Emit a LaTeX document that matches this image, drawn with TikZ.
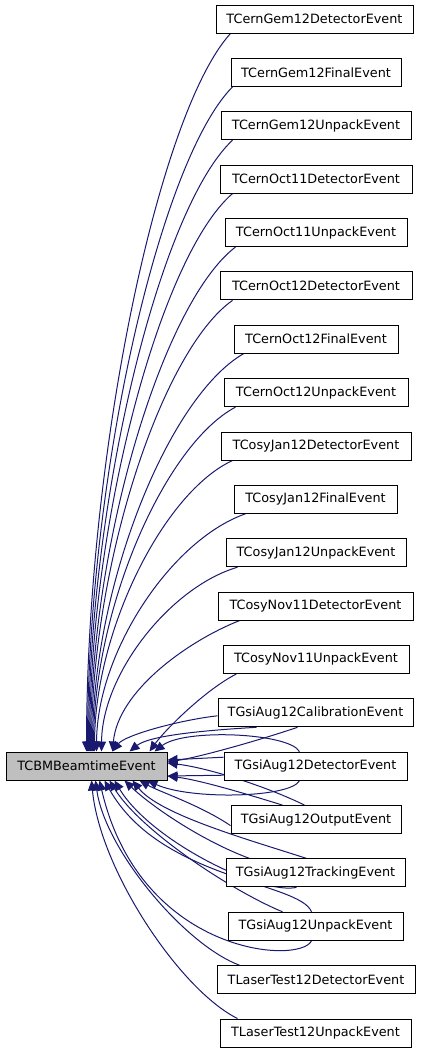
\documentclass[tikz,border=0pt]{standalone}
\usepackage{fontspec}
\setmainfont{DejaVu Sans}
\usetikzlibrary{arrows.meta,backgrounds}
\definecolor{edgeblue}{HTML}{191970}
\definecolor{basegray}{HTML}{BFBFBF}
\begin{document}
\begin{tikzpicture}[x=1pt,y=-1pt,
  cls/.style={draw=black,fill=white,line width=1pt,minimum height=28pt,inner sep=0pt,
    font=\fontsize{12.8}{15}\selectfont},
  basecls/.style={cls,fill=basegray},
  edge/.style={draw=edgeblue,line width=1pt,-{Triangle[length=10pt,width=9pt]}}]
\useasboundingbox (0,0) rectangle (421,1053);
\node[basecls,minimum width=161pt] (P) at (86.5,766) {TCBMBeamtimeEvent};
\node[cls,minimum width=197pt] (b1)  at (314.5,19.0)  {TCernGem12DetectorEvent};
\node[cls,minimum width=170pt] (b2)  at (316,72.4)    {TCernGem12FinalEvent};
\node[cls,minimum width=190pt] (b3)  at (316,125.7)   {TCernGem12UnpackEvent};
\node[cls,minimum width=192pt] (b4)  at (316,179.1)   {TCernOct11DetectorEvent};
\node[cls,minimum width=182pt] (b5)  at (316,232.5)   {TCernOct11UnpackEvent};
\node[cls,minimum width=192pt] (b6)  at (316,285.9)   {TCernOct12DetectorEvent};
\node[cls,minimum width=164pt] (b7)  at (316,339.2)   {TCernOct12FinalEvent};
\node[cls,minimum width=184pt] (b8)  at (316,392.6)   {TCernOct12UnpackEvent};
\node[cls,minimum width=190pt] (b9)  at (316,446.0)   {TCosyJan12DetectorEvent};
\node[cls,minimum width=163pt] (b10) at (315.5,499.3) {TCosyJan12FinalEvent};
\node[cls,minimum width=180pt] (b11) at (316,552.7)   {TCosyJan12UnpackEvent};
\node[cls,minimum width=195pt] (b12) at (315.5,606.1) {TCosyNov11DetectorEvent};
\node[cls,minimum width=186pt] (b13) at (316,659.4)   {TCosyNov11UnpackEvent};
\node[cls,minimum width=195pt] (b14) at (315.5,712.8) {TGsiAug12CalibrationEvent};
\node[cls,minimum width=183pt] (b15) at (315.5,766.2) {TGsiAug12DetectorEvent};
\node[cls,minimum width=170pt] (b16) at (316,819.6)   {TGsiAug12OutputEvent};
\node[cls,minimum width=179pt] (b17) at (315.5,872.9) {TGsiAug12TrackingEvent};
\node[cls,minimum width=175pt] (b18) at (315.5,926.3) {TGsiAug12UnpackEvent};
\node[cls,minimum width=198pt] (b19) at (316,979.7)   {TLaserTest12DetectorEvent};
\node[cls,minimum width=191pt] (b20) at (315.5,1033)  {TLaserTest12UnpackEvent};
\begin{scope}[on background layer]
\draw[edge] ([xshift=15pt]b1.south west)  .. controls (159,112)   and (87,450)   .. ([xshift=81pt]P.north west);
\draw[edge] ([xshift=2pt]b2.south west)   .. controls (160.5,159.6) and (88,472.5) .. ([xshift=82pt]P.north west);
\draw[edge] ([xshift=12pt]b3.south west)  .. controls (161,207.1) and (89,494.8) .. ([xshift=83pt]P.north west);
\draw[edge] ([xshift=13pt]b4.south west)  .. controls (161.5,254.6) and (90,517.3) .. ([xshift=84pt]P.north west);
\draw[edge] ([xshift=11pt]b5.south west)  .. controls (163.5,302.1) and (91,539.7) .. ([xshift=85pt]P.north west);
\draw[edge] ([xshift=13pt]b6.south west)  .. controls (162.5,349.6) and (92,562.1) .. ([xshift=86pt]P.north west);
\draw[edge] ([xshift=10pt]b7.south west)  .. controls (168.5,397.1) and (93,584.5) .. ([xshift=87pt]P.north west);
\draw[edge] ([xshift=12pt]b8.south west)  .. controls (165,444.6)   and (94,606.9) .. ([xshift=88pt]P.north west);
\draw[edge] ([xshift=12pt]b9.south west)  .. controls (164,492.1)   and (95,629.4) .. ([xshift=89pt]P.north west);
\draw[edge] ([xshift=12pt]b10.south west) .. controls (171.5,539.6) and (97,651.7) .. ([xshift=91pt]P.north west);
\draw[edge] ([xshift=12pt]b11.south west) .. controls (170,587.1)   and (102,674.2) .. ([xshift=96pt]P.north west);
\draw[edge] ([xshift=22pt]b12.south west) .. controls (190,640) and (118,690) .. ([xshift=107pt]P.north west);
\draw[edge] ([xshift=14pt]b13.south west) .. controls (205,690) and (165,730) .. ([xshift=144pt]P.north west);
% TGsiAug12CalibrationEvent
\draw[edge] ([yshift=-3pt]b14.west) .. controls (180,720) and (125,735) .. ([xshift=107pt]P.north west);
\draw[edge] ([xshift=39pt]b14.south west) .. controls (210,730) and (150,735) .. ([xshift=124pt]P.north west);
\draw[edge] ([xshift=80pt]b14.south west) .. controls (260,740) and (200,757) .. ([yshift=4pt]P.east);
% TGsiAug12DetectorEvent
\draw[edge] ([xshift=76pt]b15.north west) .. controls (290,733) and (185,728) .. ([xshift=149pt]P.north west);
\draw[edge] ([yshift=9pt]b15.west) -- ([yshift=6pt]P.east);
\draw[edge] ([yshift=-9pt]b15.west) -- ([yshift=-10pt]P.east);
\draw[edge] ([xshift=76pt]b15.south west) .. controls (290,798) and (190,800) .. ([xshift=142pt]P.south west);
% TGsiAug12OutputEvent
\draw[edge] ([xshift=52pt]b16.north west) .. controls (250,795) and (200,780) .. ([yshift=-10pt]P.east);
\draw[edge] ([xshift=74pt]b16.north west) .. controls (270,788) and (210,768) .. ([yshift=3pt]P.east);
\draw[edge] ([yshift=-6pt]b16.west) .. controls (200,805) and (160,792) .. ([xshift=134pt]P.south west);
% TGsiAug12TrackingEvent
\draw[edge] ([xshift=24pt]b17.north west) .. controls (200,840) and (150,805) .. ([xshift=119pt]P.south west);
\draw[edge] ([xshift=81pt]b17.north west) .. controls (250,840) and (160,815) .. ([xshift=127pt]P.south west);
\draw[edge] ([xshift=71pt]b17.south west) .. controls (260,895) and (150,840) .. ([xshift=109pt]P.south west);
% TGsiAug12UnpackEvent
\draw[edge] ([xshift=55pt]b18.north west) .. controls (230,890) and (140,830) .. ([xshift=104pt]P.south west);
\draw[edge] ([xshift=84pt]b18.north west) .. controls (300,882) and (160,880) .. ([xshift=99pt]P.south west);
\draw[edge] ([xshift=84pt]b18.south west) .. controls (300,965) and (140,955) .. ([xshift=94pt]P.south west);
% TLaserTest12
\draw[edge] ([xshift=23pt]b19.north west) .. controls (185,945) and (105,850) .. ([xshift=90pt]P.south west);
\draw[edge] ([xshift=18pt]b20.north west) .. controls (180,990) and (100,870) .. ([xshift=86pt]P.south west);
\end{scope}
\end{tikzpicture}
\end{document}
